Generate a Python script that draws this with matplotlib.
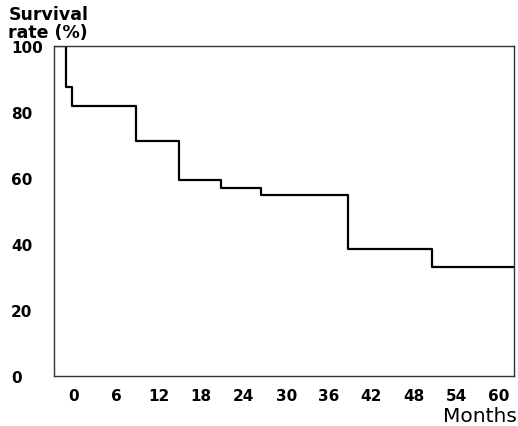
import matplotlib.pyplot as plt

# Kaplan-Meier style survival curve
months = [-2.8, -1.1, -0.3, 8.7, 14.8, 20.8, 26.5, 38.7, 50.6, 62.2]
survival = [100, 87.7, 81.8, 71.2, 59.4, 56.9, 54.9, 38.5, 33.1, 33.1]

x_ticks = [0, 6, 12, 18, 24, 30, 36, 42, 48, 54, 60]
y_ticks = [0, 20, 40, 60, 80, 100]

plt.rcParams['font.family'] = ['DejaVu Sans']

fig = plt.figure(figsize=(5.18, 4.27), dpi=100)
ax = fig.add_axes([0.1042, 0.1171, 0.8881, 0.7728])

ax.plot(months, survival, drawstyle='steps-post', color='black', linewidth=1.6)

ax.set_xlim(-2.83, 62.2)
ax.set_ylim(0, 100)
ax.set_xticks(x_ticks)
ax.set_yticks(y_ticks)
ax.tick_params(length=0, labelsize=11)
ax.tick_params(axis='x', pad=9)
ax.tick_params(axis='y', pad=31)
for lbl in ax.get_xticklabels() + ax.get_yticklabels():
    lbl.set_fontweight('bold')
for lbl in ax.get_yticklabels():
    lbl.set_horizontalalignment('left')
for sp in ax.spines.values():
    sp.set_linewidth(1.0)
    sp.set_color('#333333')

fig.text(0.016, 0.985, 'Survival\nrate (%)', ha='left', va='top',
         fontsize=12.5, fontweight='bold', linespacing=1.0)
fig.text(0.998, 0.003, 'Months', ha='right', va='bottom', fontsize=14.5)

fig.savefig('out.png', dpi=100)
